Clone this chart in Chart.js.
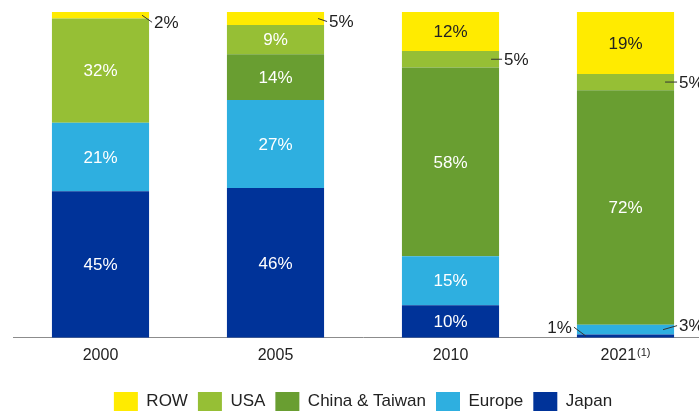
<!DOCTYPE html>
<html>
<head>
<meta charset="utf-8">
<script src="https://cdn.jsdelivr.net/npm/chart.js@4.4.1/dist/chart.umd.min.js"></script>
<style>
  html, body { margin: 0; padding: 0; background: #fff; overflow: hidden; }
  #wrap { width: 713px; height: 422px; }
</style>
</head>
<body>
<div id="wrap"><canvas id="share-chart" width="713" height="422"></canvas></div>
<script>
// Share by region, %
const categories = ['2000', '2005', '2010', '2021'];
const notes = ['', '', '', '(1)'];
const japan = [45, 46, 10, 1];
const europe = [21, 27, 15, 3];
const chinaTaiwan = [0, 14, 58, 72];
const usa = [32, 9, 5, 5];
const row = [2, 5, 12, 19];

const seriesNames = ['Japan', 'Europe', 'China & Taiwan', 'USA', 'ROW'];
const seriesData = [japan, europe, chinaTaiwan, usa, row];
const seriesColors = ['#003399', '#2eafe0', '#699e31', '#96bf35', '#ffeb00'];
const labelColors = ['#fff', '#fff', '#fff', '#fff', '#222'];

// thin segments get their value beside the bar with a short leader line
const callouts = [
    { series: 'ROW', index: 0, side: 'right', inset: 7, dy: 7 },
    { series: 'ROW', index: 1, side: 'right', inset: 6, dy: 3 },
    { series: 'USA', index: 2, side: 'right', inset: 8, dy: 0 },
    { series: 'USA', index: 3, side: 'right', inset: 9, dy: 0 },
    { series: 'Europe', index: 3, side: 'right', inset: 11, dy: -4 },
    { series: 'Japan', index: 3, side: 'left', inset: 9, dy: -9 }
];

const FONT = 'Arial, "Liberation Sans", sans-serif';
const TICK_PAD = 8;

const segmentLabels = {
    id: 'segmentLabels',
    afterDatasetsDraw(chart) {
        const ctx = chart.ctx;
        const area = chart.chartArea;
        ctx.save();
        ctx.font = '17px ' + FONT;
        ctx.textBaseline = 'middle';
        chart.data.datasets.forEach((ds, di) => {
            const meta = chart.getDatasetMeta(di);
            meta.data.forEach((bar, i) => {
                const value = ds.data[i];
                if (!value) return;
                const top = Math.max(bar.y, area.top);
                const mid = (top + bar.base) / 2;
                const call = callouts.find(c => c.series === ds.label && c.index === i);
                if (!call) {
                    ctx.fillStyle = labelColors[di];
                    ctx.textAlign = 'center';
                    ctx.fillText(value + '%', bar.x, mid + 1);
                    return;
                }
                const dir = call.side === 'right' ? 1 : -1;
                const edge = bar.x + dir * bar.width / 2;
                ctx.strokeStyle = '#333';
                ctx.lineWidth = 1;
                ctx.beginPath();
                ctx.moveTo(edge - dir * call.inset, mid);
                ctx.lineTo(edge + dir * 3, mid + call.dy);
                ctx.stroke();
                ctx.fillStyle = '#222';
                ctx.textAlign = dir === 1 ? 'left' : 'right';
                ctx.fillText(value + '%', edge + dir * 5, mid + call.dy + 1);
            });
        });
        ctx.restore();
    }
};

// category labels that carry a footnote mark are written here, mark raised and small
const footnoteTicks = {
    id: 'footnoteTicks',
    afterDraw(chart) {
        const ctx = chart.ctx;
        const scale = chart.scales.x;
        const y = scale.top + TICK_PAD + 9.6;
        ctx.save();
        ctx.fillStyle = '#222';
        ctx.textAlign = 'left';
        ctx.textBaseline = 'middle';
        notes.forEach((note, i) => {
            if (!note) return;
            const x = scale.getPixelForTick(i);
            ctx.font = '16px ' + FONT;
            const w1 = ctx.measureText(categories[i]).width;
            ctx.font = '11px ' + FONT;
            const w2 = ctx.measureText(note).width;
            const start = x - (w1 + 1 + w2) / 2;
            ctx.font = '16px ' + FONT;
            ctx.fillText(categories[i], start, y);
            ctx.font = '11px ' + FONT;
            ctx.fillText(note, start + w1 + 1, y - 2);
        });
        ctx.restore();
    }
};

const datasets = seriesNames.map((name, k) => ({
    label: name,
    data: seriesData[k],
    backgroundColor: seriesColors[k],
    borderWidth: 0,
    categoryPercentage: 1,
    barPercentage: 0.555,
    clip: 0
}));

new Chart(document.getElementById('share-chart'), {
    type: 'bar',
    data: { labels: categories, datasets: datasets },
    plugins: [segmentLabels, footnoteTicks],
    options: {
        responsive: false,
        animation: false,
        devicePixelRatio: 1,
        layout: { padding: { top: 12, left: 13, right: 0, bottom: 1 } },
        plugins: {
            tooltip: { enabled: false },
            legend: {
                position: 'bottom',
                reverse: true,
                labels: {
                    boxWidth: 24,
                    boxHeight: 19,
                    padding: 10,
                    color: '#222',
                    font: { size: 17, family: FONT }
                }
            }
        },
        scales: {
            x: {
                stacked: true,
                grid: { display: false, drawTicks: false },
                border: { display: true, color: '#8c8c8c', width: 1 },
                ticks: {
                    color: ctx => notes[ctx.index] ? 'rgba(0,0,0,0)' : '#222',
                    padding: TICK_PAD,
                    maxRotation: 0,
                    autoSkip: false,
                    font: { size: 16, family: FONT }
                },
                afterFit(scale) { scale.height += 9; }
            },
            y: { stacked: true, display: false, min: 0, max: 100 }
        }
    }
});
</script>
</body>
</html>
